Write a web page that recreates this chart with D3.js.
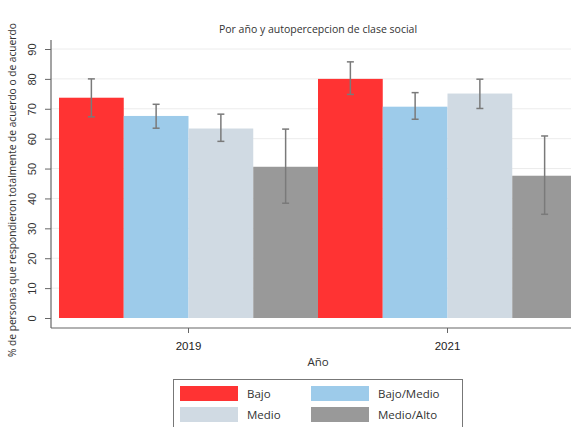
<!DOCTYPE html>
<html>
<head>
<meta charset="utf-8">
<script src="https://cdn.jsdelivr.net/npm/d3@7"></script>
<style>
  body { margin: 0; background: #fff; }
  svg { display: block; font-family: "Open Sans", sans-serif; }
</style>
</head>
<body>
<svg width="571" height="427"></svg>
<script>
// data
const years = ["2019", "2021"];
const classes = ["Bajo", "Bajo/Medio", "Medio", "Medio/Alto"];
const values2019 = [73.7, 67.6, 63.4, 50.6];
const values2021 = [80.0, 70.7, 75.1, 47.6];
const low2019 = [67.3, 63.5, 59.1, 38.4];
const high2019 = [80.0, 71.5, 68.2, 63.2];
const low2021 = [74.8, 66.5, 70.1, 34.7];
const high2021 = [85.7, 75.4, 79.9, 60.9];
const yTicks = [0, 10, 20, 30, 40, 50, 60, 70, 80, 90];
const colors = ["#ff3333", "#9dcbea", "#d0dae3", "#999999"];

const rows = [];
years.forEach((yr, i) => {
  const v = i === 0 ? values2019 : values2021;
  const lo = i === 0 ? low2019 : low2021;
  const hi = i === 0 ? high2019 : high2021;
  classes.forEach((c, j) => rows.push({ year: yr, cls: c, value: v[j], lo: lo[j], hi: hi[j] }));
});

const svg = d3.select("svg");

const y = d3.scaleLinear().domain([0, 90]).range([318, 49]);
const x0 = d3.scaleBand().domain(years).range([59, 577]).padding(0);
const x1 = d3.scaleBand().domain(classes).range([0, x0.bandwidth()]).padding(0);
const color = d3.scaleOrdinal().domain(classes).range(colors);

// gridlines
svg.append("g")
  .selectAll("line")
  .data(yTicks.filter(d => d > 0))
  .join("line")
  .attr("x1", 51).attr("x2", 571)
  .attr("y1", d => y(d)).attr("y2", d => y(d))
  .attr("stroke", "#ececec").attr("stroke-width", 1);

// bars
svg.append("g")
  .selectAll("rect")
  .data(rows)
  .join("rect")
  .attr("x", d => x0(d.year) + x1(d.cls))
  .attr("y", d => y(d.value))
  .attr("width", x1.bandwidth())
  .attr("height", d => y(0) - y(d.value))
  .attr("fill", d => color(d.cls));

// error bars
const err = svg.append("g").attr("stroke", "#7a7a7a").attr("stroke-width", 1.5);
rows.forEach(d => {
  const cx = x0(d.year) + x1(d.cls) + x1.bandwidth() / 2;
  err.append("line").attr("x1", cx).attr("x2", cx).attr("y1", y(d.hi)).attr("y2", y(d.lo));
  err.append("line").attr("x1", cx - 3.5).attr("x2", cx + 3.5).attr("y1", y(d.hi)).attr("y2", y(d.hi));
  err.append("line").attr("x1", cx - 3.5).attr("x2", cx + 3.5).attr("y1", y(d.lo)).attr("y2", y(d.lo));
});

// y axis
const yAxis = svg.append("g")
  .attr("transform", "translate(51,0)")
  .call(d3.axisLeft(y).tickValues(yTicks).tickSize(6).tickSizeOuter(0));
yAxis.select(".domain").remove();
yAxis.append("line").attr("x1", 0).attr("x2", 0).attr("y1", 40).attr("y2", 328)
  .attr("stroke", "#666").attr("stroke-width", 1.2);
yAxis.selectAll(".tick line").attr("stroke", "#666");
yAxis.selectAll(".tick text")
  .attr("x", 0).attr("dy", 0)
  .attr("transform", "translate(-15,0) rotate(-90)")
  .attr("text-anchor", "middle")
  .attr("fill", "#333")
  .style("font-size", "11px");

// x axis
const xAxis = svg.append("g")
  .attr("transform", "translate(0,328)")
  .call(d3.axisBottom(x0).tickSize(5).tickSizeOuter(0));
xAxis.select(".domain").remove();
xAxis.append("line").attr("x1", 51).attr("x2", 571).attr("y1", 0).attr("y2", 0)
  .attr("stroke", "#666").attr("stroke-width", 1.2);
xAxis.selectAll(".tick line").attr("stroke", "#666");
xAxis.selectAll(".tick text")
  .attr("y", 14)
  .attr("fill", "#222")
  .style("font-size", "11.5px");

// labels
svg.append("text")
  .attr("x", 318).attr("y", 33)
  .attr("text-anchor", "middle")
  .attr("fill", "#333")
  .style("font-size", "10.5px")
  .text("Por año y autopercepcion de clase social");

svg.append("text")
  .attr("x", 318).attr("y", 366)
  .attr("text-anchor", "middle")
  .attr("fill", "#333")
  .style("font-size", "11.5px")
  .text("Año");

svg.append("text")
  .attr("transform", "translate(16,357) rotate(-90)")
  .attr("text-anchor", "start")
  .attr("fill", "#333")
  .style("font-size", "10.2px")
  .text("% de personas que respondieron totalmente de acuerdo o de acuerdo");

// legend
const legend = svg.append("g");
legend.append("rect")
  .attr("x", 173.5).attr("y", 379.5).attr("width", 289).attr("height", 60)
  .attr("fill", "#fff").attr("stroke", "#777").attr("stroke-width", 1);
const item = legend.selectAll("g.item")
  .data(classes)
  .join("g")
  .attr("class", "item")
  .attr("transform", (d, i) => `translate(${180 + (i % 2) * 131},${386 + Math.floor(i / 2) * 21})`);
item.append("rect")
  .attr("width", 58).attr("height", 15)
  .attr("fill", d => color(d));
item.append("text")
  .attr("x", 67).attr("y", 11.5)
  .attr("fill", "#333")
  .style("font-size", "11.5px")
  .text(d => d);
</script>
</body>
</html>
